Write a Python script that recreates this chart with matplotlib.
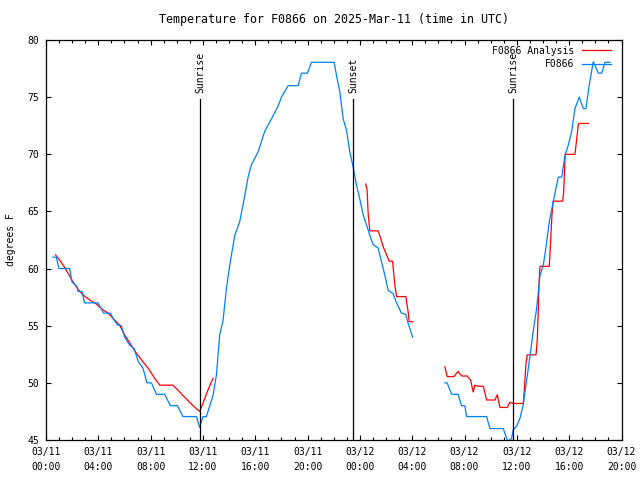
import numpy as np
import matplotlib
matplotlib.use("Agg")
import matplotlib.pyplot as plt
from matplotlib.ticker import MultipleLocator

nan = np.nan

# hours since 03/11 00:00 UTC, NaN marks gaps in the record
obs_hours = [0.53, 0.79, 0.99, 1.81, 1.98, 2.39, 2.44, 2.75, 2.95, 3.97, 4.41, 4.94,
             5.12, 5.46, 5.76, 6.01, 6.40, 6.73, 7.06, 7.41, 7.72, 8.06, 8.44, 9.07,
             9.51, 10.05, 10.47, 11.50, 11.75, 12.00, 12.26, 12.77, 13.03, 13.28, 13.53,
             13.80, 14.05, 14.43, 14.81, 15.20, 15.45, 15.71, 16.21, 16.72, 17.24, 17.74,
             18.00, 18.51, 19.27, 19.53, 19.99, 20.30, 22.03, 22.21, 22.46, 22.72, 22.98,
             23.23, 23.48, 23.74, 23.99, 24.25, 24.51, 24.76, 25.01, 25.39, 25.65, 25.91,
             26.16, 26.54, 26.80, 27.18, 27.51, 27.69, 28.03,
             nan,
             30.50, 30.67, 31.01, 31.51, 31.77, 32.02, 32.16, 33.69, 33.94, 34.96, 35.22,
             35.34, 35.60, 35.72, 35.98, 36.24, 36.49, 36.75, 37.00, 37.25, 37.51, 37.77,
             38.02, 38.22, 38.48, 38.78, 39.04, 39.17, 39.43, 39.68, 39.93, 40.19, 40.44,
             40.77, 41.08, 41.28, 41.54, 41.84, 42.23, 42.49, 42.74, 43.12]
obs_temps = [61.0, 61.0, 60.0, 60.0, 58.85, 58.4, 58.0, 58.0, 57.0, 57.0, 56.1, 56.1,
             55.65, 55.07, 55.0, 54.0, 53.3, 53.0, 51.85, 51.3, 50.0, 50.0, 49.0, 49.0,
             48.0, 48.0, 47.05, 47.05, 46.1, 47.05, 47.05, 48.9, 50.7, 54.2, 55.4,
             58.3, 60.3, 62.9, 64.1, 66.4, 68.0, 69.1, 70.2, 72.0, 73.1, 74.2,
             75.0, 76.0, 76.0, 77.1, 77.1, 78.05, 78.05, 76.9, 75.5, 73.1, 72.1,
             70.2, 68.9, 67.3, 66.1, 64.7, 63.8, 62.9, 62.1, 61.8, 60.6, 59.4,
             58.1, 57.8, 57.0, 56.1, 56.0, 55.2, 54.0,
             nan,
             50.0, 50.0, 49.0, 49.0, 48.0, 48.0, 47.05, 47.05, 46.0, 46.0, 45.15,
             44.9, 45.15, 45.9, 46.2, 46.9, 48.1, 50.25, 52.3, 54.5, 56.5, 59.4,
             60.3, 61.8, 64.1, 65.85, 67.3, 68.0, 68.0, 69.9, 70.8, 72.0, 74.0,
             75.0, 74.0, 74.0, 76.1, 78.1, 77.1, 77.1, 78.05, 78.05]

ana_hours = [0.73, 1.04, 1.37, 1.68, 2.06, 2.44, 2.82, 3.34, 3.85, 4.23, 4.74, 5.25,
             5.63, 6.01, 6.40, 6.91, 7.41, 7.80, 8.31, 8.69, 9.71, 10.22, 10.73, 11.24,
             11.75, 12.00, 12.39, 12.77,
             nan,
             24.45, 24.55, 24.63, 24.76, 25.39, 25.52, 25.78, 26.04, 26.24, 26.50, 26.60,
             26.67, 26.80, 27.51, 27.61, 27.69, 27.76, 28.03,
             nan,
             30.50, 30.67, 31.19, 31.51, 31.77, 32.20, 32.46, 32.66, 32.79, 33.04, 33.43,
             33.69, 34.32, 34.50, 34.71, 35.26, 35.47, 35.68, 36.49, 36.54, 36.69, 36.79,
             37.46, 37.56, 37.64, 37.70, 37.77, 38.48, 38.53, 38.61, 38.69, 38.78, 39.50,
             39.58, 39.62, 39.70, 40.44, 40.52, 40.70, 40.77, 41.46]
ana_temps = [61.2, 60.75, 60.2, 59.6, 58.85, 58.2, 57.7, 57.25, 56.9, 56.5, 56.1, 55.5,
             55.05, 54.2, 53.5, 52.6, 51.85, 51.3, 50.4, 49.8, 49.8, 49.2, 48.6, 48.0,
             47.5, 48.2, 49.4, 50.4,
             nan,
             67.4, 66.9, 64.8, 63.3, 63.3, 62.9, 61.9, 61.2, 60.65, 60.65, 59.4,
             58.6, 57.55, 57.55, 56.8, 56.2, 55.35, 55.35,
             nan,
             51.4, 50.55, 50.55, 51.0, 50.6, 50.6, 50.25, 49.2, 49.8, 49.7, 49.7,
             48.5, 48.5, 48.95, 47.85, 47.85, 48.3, 48.2, 48.2, 48.95, 51.6, 52.45,
             52.45, 53.75, 56.4, 58.85, 60.2, 60.2, 61.25, 63.1, 64.8, 65.9, 65.9,
             66.7, 68.0, 70.0, 70.0, 70.8, 72.6, 72.7, 72.7]

sun_hours = [11.78, 23.48, 35.72]
sun_labels = ["Sunrise", "Sunset", "Sunrise"]

tick_hours = list(range(0, 45, 4))
tick_labels = ["03/11\n00:00", "03/11\n04:00", "03/11\n08:00", "03/11\n12:00",
               "03/11\n16:00", "03/11\n20:00", "03/12\n00:00", "03/12\n04:00",
               "03/12\n08:00", "03/12\n12:00", "03/12\n16:00", "03/12\n20:00"]

plt.rcParams['font.family'] = ['DejaVu Sans Mono']
plt.rcParams['font.size'] = 7

fig = plt.figure(figsize=(6.4, 4.8), dpi=100)
ax = fig.add_axes([46 / 640, 40 / 480, 575.5 / 640, 400 / 480])

ax.plot(ana_hours, ana_temps, color='#ff0000', lw=0.9, label='F0866 Analysis')
ax.plot(obs_hours, obs_temps, color='#0080ff', lw=0.9, label='F0866')

for h, lab in zip(sun_hours, sun_labels):
    ax.plot([h, h], [45, 74.8], color='black', lw=0.9)
    ax.text(h, 75.4, lab, rotation=90, ha='center', va='bottom')

ax.set_xlim(0, 44)
ax.set_ylim(45, 80)
ax.set_xticks(tick_hours)
ax.set_xticklabels(tick_labels, linespacing=1.6)
ax.xaxis.set_minor_locator(MultipleLocator(1))
ax.set_yticks(range(45, 81, 5))
ax.tick_params(which='both', direction='in', top=True, right=True, width=0.8)
ax.tick_params(which='major', length=3.5, pad=5)
ax.tick_params(which='minor', length=2)
for s in ax.spines.values():
    s.set_linewidth(0.9)

ax.set_ylabel('degrees F', labelpad=8)
ax.set_title('Temperature for F0866 on 2025-Mar-11 (time in UTC)', pad=12)

ax.legend(loc='upper right', bbox_to_anchor=(1 - 5 / 575.5, 1), markerfirst=False,
          frameon=False, handlelength=2.9, handletextpad=0.8, labelspacing=0.35,
          borderaxespad=0.3, borderpad=0.3)

fig.savefig('out.png', dpi=100)
